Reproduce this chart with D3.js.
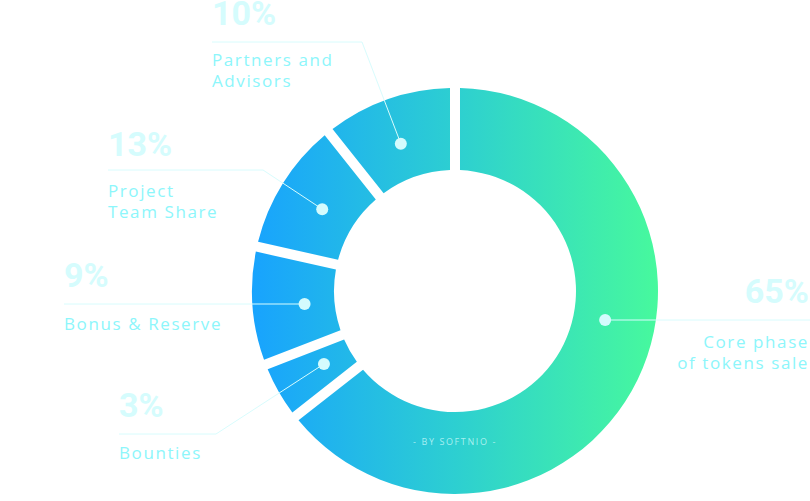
<!DOCTYPE html>
<html>
<head>
<meta charset="utf-8">
<script src="https://cdn.jsdelivr.net/npm/d3@7"></script>
<style>
  html, body { margin: 0; padding: 0; background: #ffffff; }
  svg { display: block; }
</style>
</head>
<body>
<svg id="chart" width="810" height="501"></svg>
<script>
// ---- data ----
const categories = ["Core phase of tokens sale", "Bounties", "Bonus & Reserve", "Project Team Share", "Partners and Advisors"];
// slice sizes as drawn in the picture (share of the ring, %)
const values = [64.4, 4.7, 9.4, 10.8, 10.7];
const percentLabels = ["65%", "3%", "9%", "13%", "10%"];
const labelLines = [["Core phase", "of tokens sale"], ["Bounties"], ["Bonus & Reserve"], ["Project", "Team Share"], ["Partners and", "Advisors"]];
const credit = "- BY SOFTNIO -";

// ---- layout (positions / styles) ----
const W = 810, H = 501;
const cx = 455, cy = 291, outerR = 203, innerR = 121;
const layout = [
  { frac: 0.436, r: 153, align: "end",   tx: 809, pctY: 303, lineY: 320, lineEnd: 810, elbow: null, textY: [348, 369] },
  { frac: 0.535, r: 150, align: "start", tx: 119, pctY: 417, lineY: 434, lineEnd: 119, elbow: 216, textY: [459] },
  { frac: 0.48,  r: 151, align: "start", tx: 64,  pctY: 287, lineY: 304, lineEnd: 64,  elbow: null, textY: [330] },
  { frac: 0.49,  r: 156, align: "start", tx: 108, pctY: 156, lineY: 170, lineEnd: 108, elbow: 263, textY: [197, 218] },
  { frac: 0.476, r: 157, align: "start", tx: 212, pctY: 25,  lineY: 42,  lineEnd: 212, elbow: 362, textY: [66, 87] }
];

const svg = d3.select("#chart");
const defs = svg.append("defs");
const grad = defs.append("linearGradient")
  .attr("id", "ringGrad")
  .attr("gradientUnits", "userSpaceOnUse")
  .attr("x1", -outerR).attr("y1", 0)
  .attr("x2", outerR).attr("y2", 0);
grad.append("stop").attr("offset", "0%").attr("stop-color", "#18a3fe");
grad.append("stop").attr("offset", "50%").attr("stop-color", "#2dcfd1");
grad.append("stop").attr("offset", "100%").attr("stop-color", "#47f99d");

const pie = d3.pie().sort(null).value(d => d)(values);
const arc = d3.arc()
  .innerRadius(innerR)
  .outerRadius(outerR)
  .padRadius(200)
  .padAngle(10 / 200);

const g = svg.append("g").attr("transform", `translate(${cx},${cy})`);
g.selectAll("path.slice")
  .data(pie)
  .join("path")
  .attr("class", "slice")
  .attr("d", arc)
  .attr("fill", "url(#ringGrad)");

svg.append("text")
  .attr("x", cx).attr("y", 445)
  .attr("text-anchor", "middle")
  .attr("font-family", "'Open Sans', sans-serif")
  .attr("font-size", 9)
  .attr("letter-spacing", 1.6)
  .attr("fill", "#c8f8f8")
  .attr("fill-opacity", 0.8)
  .text(credit);

const lineColor = "#d8fcfd";
pie.forEach((p, i) => {
  const L = layout[i];
  const a = p.startAngle + L.frac * (p.endAngle - p.startAngle);
  const dx = cx + L.r * Math.sin(a);
  const dy = cy - L.r * Math.cos(a);

  let pts;
  if (L.align === "end") {
    pts = [[dx, L.lineY], [L.lineEnd, L.lineY]];
  } else if (L.elbow !== null) {
    pts = [[L.lineEnd, L.lineY], [L.elbow, L.lineY], [dx, dy]];
  } else {
    pts = [[L.lineEnd, L.lineY], [dx, L.lineY]];
  }
  svg.append("path")
    .attr("d", d3.line()(pts))
    .attr("fill", "none")
    .attr("stroke", lineColor)
    .attr("stroke-width", 1);

  svg.append("circle")
    .attr("cx", dx)
    .attr("cy", L.align === "end" || L.elbow === null ? L.lineY : dy)
    .attr("r", 6)
    .attr("fill", "#d4fbfd");

  svg.append("text")
    .attr("x", L.tx).attr("y", L.pctY)
    .attr("text-anchor", L.align)
    .attr("font-family", "Roboto, sans-serif")
    .attr("font-weight", 700)
    .attr("font-size", 34)
    .attr("fill", "#d5fcfd")
    .text(percentLabels[i]);

  labelLines[i].forEach((t, j) => {
    svg.append("text")
      .attr("x", L.tx).attr("y", L.textY[j])
      .attr("text-anchor", L.align)
      .attr("font-family", "'Open Sans', sans-serif")
      .attr("font-size", 17)
      .attr("letter-spacing", 1.6)
      .attr("fill", "#8df6fb")
      .text(t);
  });
});
</script>
</body>
</html>
